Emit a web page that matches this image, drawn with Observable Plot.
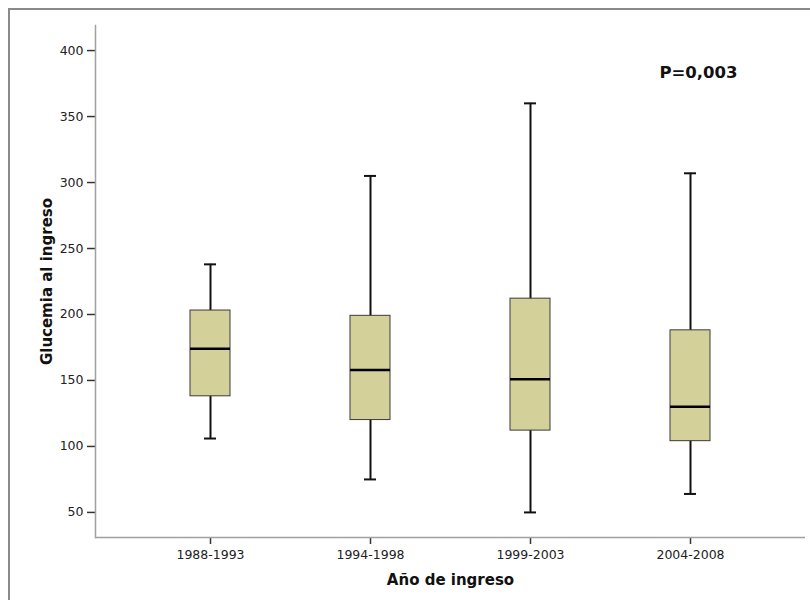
<!DOCTYPE html>
<html><head><meta charset="utf-8">
<script src="https://cdn.jsdelivr.net/npm/d3@7"></script>
<script src="https://cdn.jsdelivr.net/npm/@observablehq/plot@0.6"></script>
<style>
body{margin:0;background:#fff;}
#wrap{position:relative;width:810px;height:600px;overflow:hidden;background:#fff;}
#border{position:absolute;left:8px;top:8px;width:900px;height:700px;border-left:2px solid #8a8a8a;border-top:2px solid #8a8a8a;}
#chart{position:absolute;left:0;top:0;}
</style></head><body>
<div id="wrap"><div id="border"></div><div id="chart"></div></div>
<script>
// Data
const periods = ["1988-1993", "1994-1998", "1999-2003", "2004-2008"];
const whiskerLow = [106, 75, 50, 64];
const q1 = [138, 120, 112, 104];
const median = [174, 158, 151, 130];
const q3 = [203, 199, 212, 188];
const whiskerHigh = [238, 305, 360, 307];
const yTicks = [50, 100, 150, 200, 250, 300, 350, 400];
const yTitle = "Glucemia al ingreso";
const xTitle = "Año de ingreso";
const annotation = [{period: "2004-2008", y: 383, label: "P=0,003"}];

const data = periods.map((p, i) => ({
  period: p, lo: whiskerLow[i], q1: q1[i], med: median[i], q3: q3[i], hi: whiskerHigh[i]
}));

const chart = Plot.plot({
  width: 810, height: 600,
  marginTop: 25, marginBottom: 63, marginLeft: 95, marginRight: 5,
  style: {background: "transparent", fontFamily: "DejaVu Sans", fontSize: "12.5px", color: "#222"},
  x: {domain: periods, paddingInner: 0.75, paddingOuter: 0.59, label: null},
  y: {domain: [31, 419], label: null},
  marks: [
    Plot.axisX({tickSize: 7, tickPadding: 6, stroke: "#333", strokeWidth: 1.5, label: null, fontSize: 12.5}),
    Plot.axisY({ticks: yTicks, tickSize: 8, tickPadding: 4, stroke: "#333", strokeWidth: 1.5, label: null, fontSize: 12.5}),
    Plot.ruleY([31], {stroke: "#a0a0a0", strokeWidth: 1.5}),
    Plot.frame({anchor: "left", stroke: "#a0a0a0", strokeWidth: 1.5}),
    Plot.ruleX(data, {x: "period", y1: "lo", y2: "hi", stroke: "#111", strokeWidth: 2}),
    Plot.tickY(data, {x: "period", y: "lo", insetLeft: 14, insetRight: 14, stroke: "#111", strokeWidth: 2}),
    Plot.tickY(data, {x: "period", y: "hi", insetLeft: 14, insetRight: 14, stroke: "#111", strokeWidth: 2}),
    Plot.barY(data, {x: "period", y1: "q1", y2: "q3", fill: "#d4d09a", stroke: "#3a3a3a", strokeWidth: 1}),
    Plot.tickY(data, {x: "period", y: "med", stroke: "#000", strokeWidth: 2.5}),
    Plot.text([yTitle], {text: d => d, frameAnchor: "left", textAnchor: "middle", lineAnchor: "middle", rotate: -90, dx: -48, fontWeight: "bold", fontSize: 15, fill: "#111"}),
    Plot.text([xTitle], {text: d => d, frameAnchor: "bottom", textAnchor: "middle", lineAnchor: "middle", dy: 43, fontWeight: "bold", fontSize: 15, fill: "#111"}),
    Plot.text(annotation, {x: "period", y: "y", text: "label", dx: 8, fontWeight: "bold", fontSize: 16.5, fill: "#111"})
  ]
});
document.getElementById("chart").appendChild(chart);
</script>
</body></html>
